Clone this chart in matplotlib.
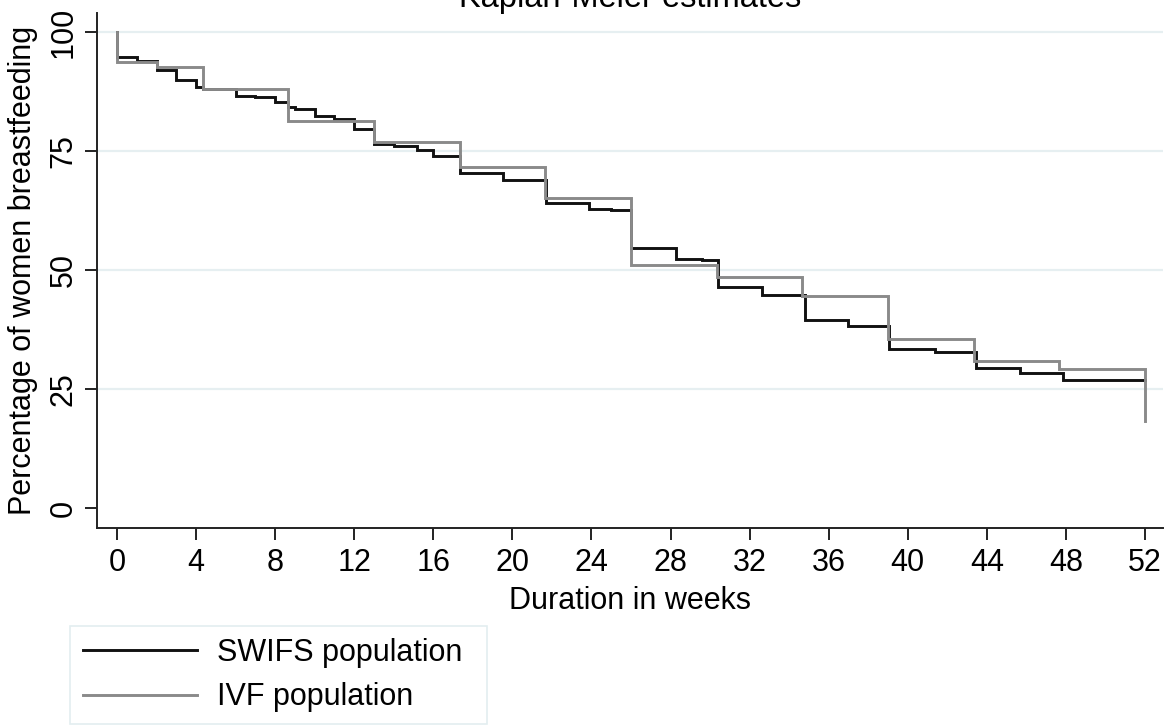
import matplotlib
matplotlib.use("Agg")
import matplotlib.pyplot as plt
from matplotlib.patches import Rectangle

plt.rcParams['font.family'] = ['Liberation Sans', 'DejaVu Sans']

# --- Data ---
swifs_t = [0, 0, 1.0, 2.0, 3.0, 4.0, 4.33, 6.0, 7.0, 8.0, 8.67, 9.0, 10.0, 11.0, 12.0,
           13.0, 14.0, 15.2, 16.0, 17.33, 19.55, 21.7, 23.9, 25.0, 26.0, 28.3, 29.6,
           30.4, 32.65, 34.8, 35.7, 37.0, 39.05, 41.4, 43.45, 45.7, 47.85, 52.0]
swifs_s = [100, 94.8, 93.8, 92.0, 89.9, 88.5, 88.0, 86.6, 86.3, 85.2, 84.2, 83.8, 82.4,
           81.8, 79.7, 76.5, 76.1, 75.3, 73.9, 70.4, 68.8, 64.0, 62.9, 62.6, 54.6, 52.4,
           52.2, 46.5, 44.7, 39.5, 39.4, 38.3, 33.5, 32.8, 29.5, 28.4, 26.9, 26.9]

ivf_t = [0, 0, 2.0, 4.33, 8.67, 13.0, 17.33, 21.67, 26.0, 30.33, 34.67, 39.0, 43.33,
         47.67, 52.0, 52.0]
ivf_s = [100, 93.6, 92.6, 88.0, 81.4, 76.8, 71.7, 65.2, 51.1, 48.5, 44.5, 35.4, 30.9,
         29.3, 29.3, 18.3]

x_ticks = list(range(0, 53, 4))
y_ticks = [0, 25, 50, 75, 100]
grid_levels = [25, 50, 75, 100]
series_labels = ["SWIFS population", "IVF population"]
title = "Kaplan-Meier estimates"
xlabel = "Duration in weeks"
ylabel = "Percentage of women breastfeeding"

W, H = 1172, 725
fig = plt.figure(figsize=(W / 100, H / 100), dpi=100)
ax_l, ax_r, ax_t, ax_b = 97.3, 1163, 12.7, 527.7
ax = fig.add_axes([ax_l / W, 1 - ax_b / H, (ax_r - ax_l) / W, (ax_b - ax_t) / H])

ax.set_xlim(-0.996, 52.91)
ax.set_ylim(-4.14, 104.05)

for g in grid_levels:
    ax.axhline(g, color='#e6eff1', lw=1.6, zorder=0)

l1, = ax.step(swifs_t, swifs_s, where='post', color='#111111', lw=2.1, zorder=2,
              solid_joinstyle='miter')
l2, = ax.step(ivf_t, ivf_s, where='post', color='#8a8a8a', lw=2.1, zorder=3,
              solid_joinstyle='miter')

for s in ['top', 'right']:
    ax.spines[s].set_visible(False)
for s in ['left', 'bottom']:
    ax.spines[s].set_linewidth(1.4)
    ax.spines[s].set_color('#222222')

ax.set_xticks(x_ticks)
ax.set_xticklabels([str(v) for v in x_ticks], fontsize=22)
ax.set_yticks(y_ticks)
ax.set_yticklabels([str(v) for v in y_ticks], fontsize=22, rotation=90, va='center')
ax.tick_params(axis='both', direction='out', length=8.6, width=1.4, color='#222222')
ax.tick_params(axis='x', pad=6)
ax.tick_params(axis='y', pad=4.7)

ax.set_xlabel(xlabel, fontsize=22)
ax.xaxis.set_label_coords(0.5, -0.113)
ax.set_ylabel(ylabel, fontsize=22)
ax.yaxis.set_label_coords(-0.0561, 0.5)

fig.text(630 / W, 1 - 7 / H, title, fontsize=23.5, ha='center', va='baseline')

# legend box
fig.patches.append(Rectangle((70 / W, 1 - 724 / H), (487 - 70) / W, (724 - 626) / H,
                             transform=fig.transFigure, facecolor='white',
                             edgecolor='#e3eef0', lw=1.2, zorder=0))
leg = fig.legend([l1, l2], series_labels, loc='center left',
                 bbox_to_anchor=(83 / W, 1 - 675 / H), frameon=False, fontsize=22,
                 handlelength=3.73, handletextpad=0.65, borderpad=0,
                 labelspacing=0.48, borderaxespad=0)

fig.savefig("out.png", dpi=100)
